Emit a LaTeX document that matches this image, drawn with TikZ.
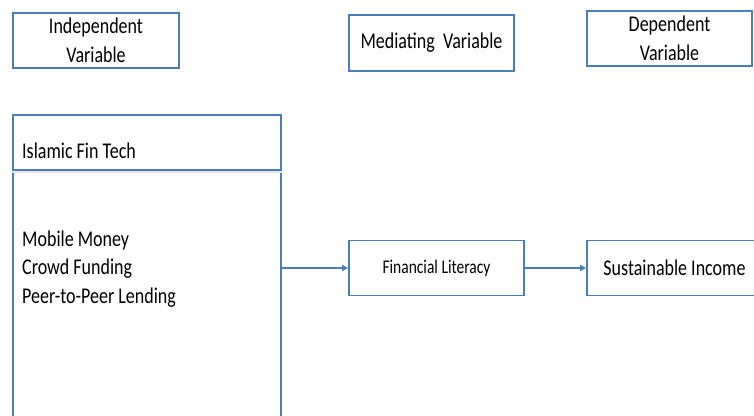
\documentclass[tikz,border=0pt]{standalone}
\usepackage{fontspec}
\setmainfont{Carlito}
\usetikzlibrary{arrows.meta, positioning}
\definecolor{boxblue}{HTML}{4A7EBB}
\newcommand{\tallt}[1]{\scalebox{1}[1.25]{#1}}

\begin{document}
\begin{tikzpicture}[x=1pt, y=-1pt,
  varbox/.style={rectangle, draw=boxblue, line width=1.7pt, align=center, inner sep=0pt, font=\fontsize{18}{29.5}\selectfont},
  smallbox/.style={varbox, font=\fontsize{15.5}{18}\selectfont},
  plain/.style={inner sep=0pt, anchor=west, align=left, font=\fontsize{18}{28.5}\selectfont},
  arrow/.style={-{Triangle[length=6pt,width=6pt]}, draw=boxblue, line width=2pt}
]
  \useasboundingbox (0,0) rectangle (754,415);

  % headings
  \node[varbox, minimum width=166pt, minimum height=55pt] (iv) at (96,40.5) {\tallt{Independent}\\\tallt{Variable}};
  \node[varbox, minimum width=165pt, minimum height=56pt] (mv) at (431.5,43) {\tallt{Mediating\ \ Variable}};
  \node[varbox, minimum width=165pt, minimum height=55pt] (dv) at (669.5,38.5) {\tallt{Dependent}\\\tallt{Variable}};

  % Islamic Fin Tech panel (runs off the page)
  \node[rectangle, draw=boxblue, line width=1.7pt, minimum width=268pt, minimum height=320pt] (ift) at (147,275) {};
  \draw[gray!20, line width=2.5pt] (ift.west |- 0,171.5) -- (ift.east |- 0,171.5);
  \draw[boxblue, line width=1.7pt] (ift.west |- 0,170) -- (ift.east |- 0,170);
  \node[plain] (ifthead) at (22,151) {\tallt{Islamic Fin Tech}};
  \node[plain] (iftlist) at (22,269) {\tallt{Mobile Money}\\\tallt{Crowd Funding}\\\tallt{Peer-to-Peer Lending}};

  % path
  \node[smallbox, minimum width=175pt, minimum height=55pt] (fl) at (436.5,268) {\tallt{Financial Literacy}};
  \node[varbox, minimum width=175pt, minimum height=55pt] (si) at (674.5,268) {\tallt{Sustainable Income}};

  \draw[arrow] (fl.west -| ift.east) -- (fl.west);
  \draw[arrow] (fl.east) -- (si.west);
\end{tikzpicture}
\end{document}
